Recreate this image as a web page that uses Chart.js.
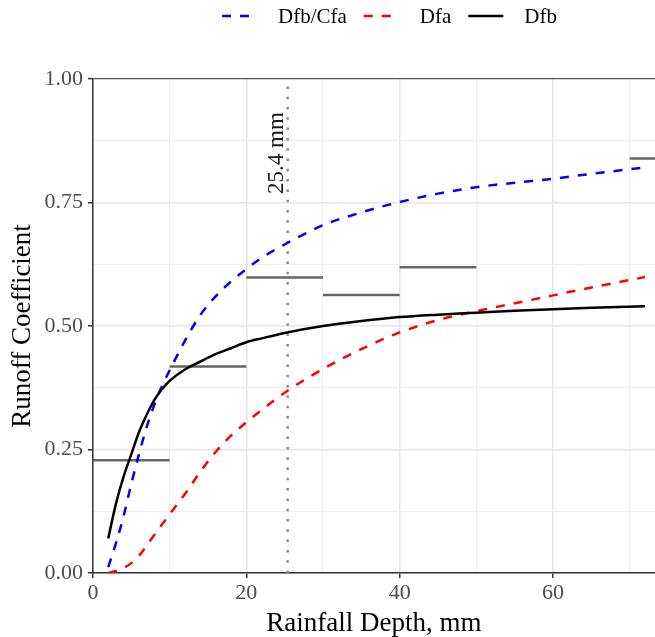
<!DOCTYPE html>
<html>
<head>
<meta charset="utf-8">
<script src="https://cdn.jsdelivr.net/npm/chart.js@4.4.1/dist/chart.umd.min.js"></script>
<style>
  html, body { margin: 0; padding: 0; background: #fff; }
  #wrap { width: 655px; height: 637px; }
</style>
</head>
<body>
<div id="wrap"><canvas id="runoffChart" width="655" height="637"></canvas></div>
<script>
// Data
const depthMm = [2, 3, 4, 5, 6, 7, 8, 9, 10, 12, 14, 16, 18, 20, 22, 25, 30, 35, 40, 45, 50, 55, 60, 65, 72];
const dfbCfa = [0.012, 0.06, 0.115, 0.18, 0.24, 0.295, 0.34, 0.378, 0.41, 0.47, 0.522, 0.56, 0.59, 0.615, 0.638, 0.665, 0.704, 0.73, 0.751, 0.768, 0.781, 0.79, 0.798, 0.808, 0.821];
const dfa = [0.0, 0.004, 0.01, 0.02, 0.035, 0.055, 0.077, 0.098, 0.119, 0.16, 0.205, 0.245, 0.278, 0.305, 0.33, 0.365, 0.413, 0.453, 0.487, 0.512, 0.53, 0.546, 0.562, 0.578, 0.599];
const dfb = [0.07, 0.14, 0.195, 0.24, 0.285, 0.32, 0.35, 0.372, 0.389, 0.412, 0.428, 0.443, 0.455, 0.467, 0.475, 0.486, 0.5, 0.51, 0.518, 0.523, 0.527, 0.531, 0.534, 0.537, 0.54];

// observed bin means (10 mm bins)
const binStarts = [0, 10, 20, 30, 40, 70];
const binWidth = 10;
const binMeans = [0.228, 0.418, 0.598, 0.563, 0.619, 0.839];

const refDepth = 25.4;
const refLabel = '25.4 mm';

const xGridValues = [0, 10, 20, 30, 40, 50, 60, 70];
const xLabelValues = [0, 20, 40, 60];
const yGridValues = [0, 0.125, 0.25, 0.375, 0.5, 0.625, 0.75, 0.875, 1];
const yLabelValues = [0, 0.25, 0.5, 0.75, 1];

const SERIF = '"Liberation Serif", "Times New Roman", serif';

function toPoints(xs, ys) {
    return xs.map((x, i) => ({ x: x, y: ys[i] }));
}

// step segments separated by gaps
const binPoints = [];
binStarts.forEach((s, i) => {
    binPoints.push({ x: s, y: binMeans[i] });
    binPoints.push({ x: s + binWidth, y: binMeans[i] });
    binPoints.push({ x: s + binWidth, y: null });
});

const isMajorX = v => xLabelValues.includes(v);
const isMajorY = v => yLabelValues.some(l => Math.abs(l - v) < 1e-9);

// legend row + reference label
const extras = {
    id: 'extras',
    afterDraw(chart) {
        const c = chart.ctx;
        const xs = chart.scales.x, ys = chart.scales.y;

        // rotated label beside the dotted line
        c.save();
        c.translate(xs.getPixelForValue(refDepth) - 5, ys.getPixelForValue(0.85));
        c.rotate(-Math.PI / 2);
        c.font = '23px ' + SERIF;
        c.fillStyle = '#1a1a1a';
        c.textAlign = 'center';
        c.textBaseline = 'alphabetic';
        c.fillText(refLabel, 0, 0);
        c.restore();

        // legend
        const items = chart.data.datasets.filter(d => d.inLegend);
        let x = 222;
        const y = 16;
        c.save();
        c.font = '21px ' + SERIF;
        c.textBaseline = 'middle';
        c.textAlign = 'left';
        items.forEach(d => {
            c.strokeStyle = d.borderColor;
            c.lineWidth = d.borderWidth;
            c.setLineDash(d.borderDash || []);
            c.beginPath();
            c.moveTo(x, y);
            c.lineTo(x + 35, y);
            c.stroke();
            c.setLineDash([]);
            c.fillStyle = '#000';
            c.fillText(d.label, x + 56, y + 1);
            x += 56 + c.measureText(d.label).width + 17;
        });
        c.restore();
    }
};

const ctx = document.getElementById('runoffChart').getContext('2d');
const chart = new Chart(ctx, {
    type: 'line',
    data: {
        datasets: [
            { label: 'bins', data: binPoints, borderColor: '#666666', borderWidth: 2.5, spanGaps: false, pointRadius: 0, order: 3 },
            { label: 'ref', data: [{ x: refDepth, y: 0 }, { x: refDepth, y: 1 }], borderColor: '#8c8c8c', borderWidth: 2.5, borderDash: [2.5, 7.8], pointRadius: 0, order: 4 },
            { label: 'Dfb/Cfa', inLegend: true, data: toPoints(depthMm, dfbCfa), borderColor: '#0000ff', borderWidth: 2.5, borderDash: [9, 9], cubicInterpolationMode: 'monotone', pointRadius: 0, order: 1 },
            { label: 'Dfa', inLegend: true, data: toPoints(depthMm, dfa), borderColor: '#ff0000', borderWidth: 2.5, borderDash: [9, 9], cubicInterpolationMode: 'monotone', pointRadius: 0, order: 1 },
            { label: 'Dfb', inLegend: true, data: toPoints(depthMm, dfb), borderColor: '#000000', borderWidth: 2.5, cubicInterpolationMode: 'monotone', pointRadius: 0, order: 0 }
        ]
    },
    options: {
        responsive: false,
        animation: false,
        events: [],
        layout: { padding: { top: 79, left: 0, right: 0, bottom: 0 } },
        plugins: { legend: { display: false }, tooltip: { enabled: false } },
        scales: {
            x: {
                type: 'linear',
                min: 0,
                max: 73.3,
                afterBuildTicks: s => { s.ticks = xGridValues.map(v => ({ value: v })); },
                ticks: {
                    autoSkip: false,
                    maxRotation: 0,
                    padding: 4,
                    color: '#4d4d4d',
                    font: { family: SERIF, size: 22, lineHeight: 1 },
                    callback: v => isMajorX(v) ? String(v) : ''
                },
                grid: {
                    color: c => isMajorX(c.tick.value) ? '#e6e6e6' : '#efefef',
                    lineWidth: c => isMajorX(c.tick.value) ? 1.5 : 1,
                    tickLength: 5,
                    tickColor: c => isMajorX(c.tick.value) ? '#333333' : 'rgba(0,0,0,0)',
                    tickWidth: 1.5
                },
                border: { display: true, color: '#333333', width: 1.5 },
                title: {
                    display: true,
                    text: 'Rainfall Depth, mm',
                    color: '#000',
                    font: { family: SERIF, size: 27, lineHeight: 1 },
                    padding: { top: 2, bottom: 0 }
                }
            },
            y: {
                type: 'linear',
                min: 0,
                max: 1,
                afterBuildTicks: s => { s.ticks = yGridValues.map(v => ({ value: v })); },
                ticks: {
                    autoSkip: false,
                    padding: 5,
                    color: '#4d4d4d',
                    font: { family: SERIF, size: 22 },
                    callback: v => isMajorY(v) ? v.toFixed(2) : ''
                },
                grid: {
                    color: c => c.tick.value === 1 ? '#555555' : (isMajorY(c.tick.value) ? '#e6e6e6' : '#efefef'),
                    lineWidth: c => c.tick.value === 1 ? 1.2 : (isMajorY(c.tick.value) ? 1.5 : 1),
                    tickLength: 5,
                    tickColor: c => isMajorY(c.tick.value) ? '#333333' : 'rgba(0,0,0,0)',
                    tickWidth: 1.5
                },
                border: { display: true, color: '#333333', width: 1.5 },
                title: {
                    display: true,
                    text: 'Runoff Coefficient',
                    color: '#000',
                    font: { family: SERIF, size: 27 },
                    padding: { top: 7, bottom: 0 }
                }
            }
        }
    },
    plugins: [extras]
});
</script>
</body>
</html>
